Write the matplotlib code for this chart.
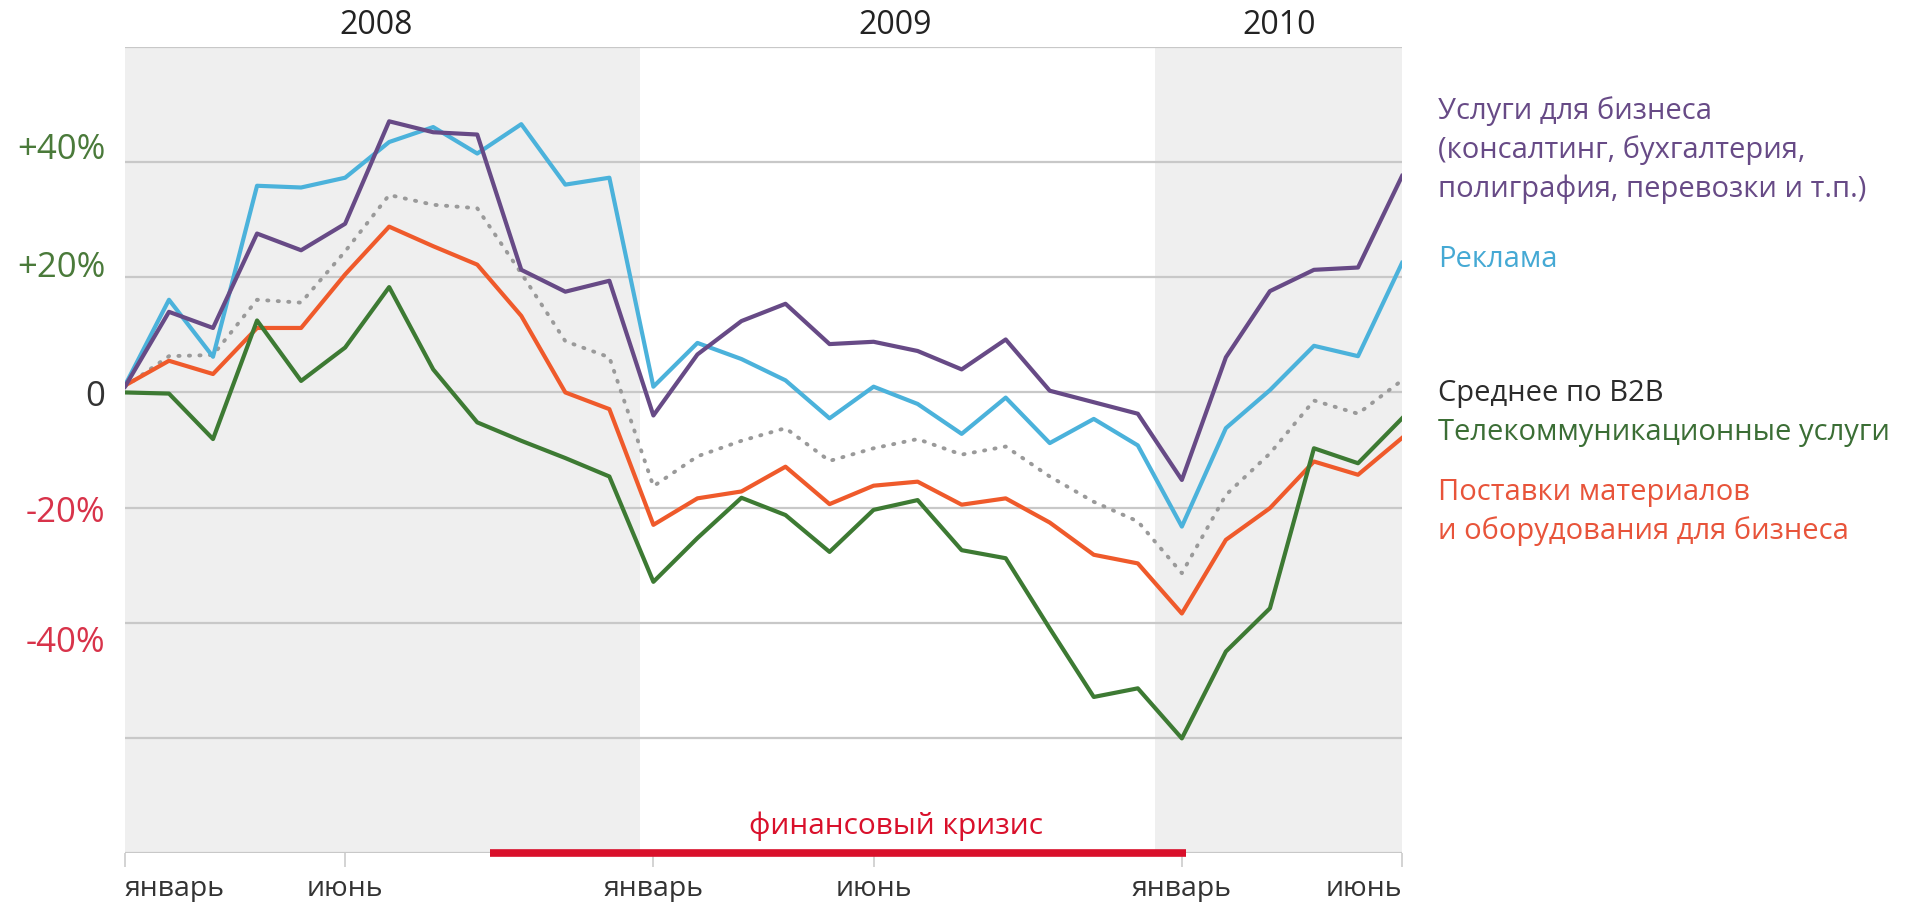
import numpy as np
import matplotlib
matplotlib.use("Agg")
import matplotlib.pyplot as plt
from matplotlib import transforms

plt.rcParams["font.family"] = ["Open Sans", "DejaVu Sans"]

# месяцы: 0 = январь 2008 ... 29 = июнь 2010
months = np.arange(30)

business_services = [1, 14.0, 11.2, 27.6, 24.7, 29.3, 47.1, 45.2, 44.8, 21.3,
                     17.5, 19.4, -4.0, 6.6, 12.4, 15.4, 8.4, 8.8, 7.2, 4.0,
                     9.2, 0.3, -1.7, -3.7, -15.2, 6.1, 17.6, 21.3, 21.7, 37.6]
advertising = [1.2, 16.1, 6.2, 35.9, 35.6, 37.3, 43.5, 46.1, 41.5, 46.6,
               36.1, 37.3, 1.0, 8.6, 5.8, 2.1, -4.5, 1.0, -2.0, -7.2,
               -0.9, -8.8, -4.6, -9.2, -23.3, -6.2, 0.4, 8.1, 6.3, 22.5]
b2b_average = [1, 6.3, 6.5, 16.1, 15.6, 24.5, 34.3, 32.6, 32.0, 20.7,
               8.9, 6.1, -16.3, -11.1, -8.4, -6.2, -11.9, -9.7, -8.1, -10.8,
               -9.4, -14.6, -19.0, -22.4, -31.4, -17.8, -10.6, -1.4, -3.7, 2.1]
telecom = [0, -0.2, -8.1, 12.5, 2.0, 7.8, 18.3, 4.0, -5.2, -8.4,
           -11.4, -14.6, -32.9, -25.3, -18.3, -21.3, -27.7, -20.4, -18.7, -27.4,
           -28.8, -41.0, -52.9, -51.4, -60.1, -45.0, -37.5, -9.7, -12.3, -4.5]
supplies = [1.2, 5.5, 3.2, 11.2, 11.2, 20.5, 28.8, 25.4, 22.2, 13.3,
            0.0, -2.9, -23.0, -18.4, -17.2, -12.9, -19.4, -16.2, -15.5, -19.5,
            -18.4, -22.6, -28.2, -29.7, -38.4, -25.6, -20.1, -12.0, -14.3, -7.9]

tick_months = [0, 5, 12, 17, 24, 29]
tick_labels = ["январь", "июнь", "январь", "июнь", "январь", "июнь"]
years = ["2008", "2009", "2010"]
year_centers = [5.7, 17.5, 26.2]
y_ticks = [40, 20, 0, -20, -40]
y_tick_labels = ["+40%", "+20%", "0", "-20%", "-40%"]
crisis_start, crisis_end = 8.3, 24.1
crisis_label_x = 17.5
shaded = [(0, 11.7), (23.4, 29)]

PURPLE = "#674a86"
BLUE = "#4bb2db"
GREY = "#9a9a9a"
GREEN = "#3d7a33"
ORANGE = "#ef5a2b"
RED = "#d9102b"

fig = plt.figure(figsize=(19.28, 9.03), dpi=100)
ax = fig.add_axes([0.0648, 0.0543, 0.6624, 0.8925])

for a, b in shaded:
    ax.axvspan(a, b, color="#efefef", lw=0, zorder=0)
for v in range(-80, 61, 20):
    ax.axhline(v, color="#c8c8c8", lw=1.6, zorder=1)

ax.plot(months, b2b_average, color=GREY, lw=2.8, ls=(0, (0.3, 2.4)),
        dash_capstyle="round", zorder=2)
ax.plot(months, supplies, color=ORANGE, lw=3.0, zorder=3)
ax.plot(months, telecom, color=GREEN, lw=3.0, zorder=4)
ax.plot(months, advertising, color=BLUE, lw=3.0, zorder=5)
ax.plot(months, business_services, color=PURPLE, lw=3.0, zorder=6)

# полоса кризиса
ax.plot([crisis_start, crisis_end], [-80, -80], color=RED, lw=5.5,
        solid_capstyle="butt", zorder=7, clip_on=False)
ax.text(crisis_label_x, -75.2, "финансовый кризис",
        color=RED, fontsize=21.5, ha="center", va="center")

ax.set_xlim(0, 29)
ax.set_ylim(-80, 60)
for s in ax.spines.values():
    s.set_visible(False)

ax.set_xticks(tick_months)
ax.set_xticklabels(tick_labels, fontsize=20.5, color="#333333")
ax.tick_params(axis="x", length=10, width=1.2, color="#cccccc", pad=5)
xl = ax.get_xticklabels()
xl[0].set_ha("left")
xl[-1].set_ha("right")

ax.set_yticks(y_ticks)
ax.set_yticklabels(y_tick_labels, fontsize=25)
ax.tick_params(axis="y", length=0, pad=14)
y_colors = ["#4a7a3a", "#4a7a3a", "#333333", "#d8334a", "#d8334a"]
y_shift = [0.17, 0.14, 0, 0, -0.15]
for lab, c, dy in zip(ax.get_yticklabels(), y_colors, y_shift):
    lab.set_color(c)
    lab.set_transform(lab.get_transform() +
                      transforms.ScaledTranslation(0, dy, fig.dpi_scale_trans))

# годы сверху
top = transforms.blended_transform_factory(ax.transData, ax.transAxes)
for yr, xc in zip(years, year_centers):
    ax.text(xc, 1.028, yr, transform=top, ha="center", va="center",
            fontsize=23, color="#222222")

# подписи серий справа
labels = [
    ("Услуги для бизнеса\n(консалтинг, бухгалтерия,\nполиграфия, перевозки и т.п.)", 0.8735, PURPLE),
    ("Реклама", 0.738, "#45a9d4"),
    ("Среднее по B2B", 0.5713, "#2b2b2b"),
    ("Телекоммуникационные услуги", 0.5226, "#3b6e35"),
    ("Поставки материалов\nи оборудования для бизнеса", 0.4243, "#e8543a"),
]
for txt, y, c in labels:
    ax.text(1.028, y, txt, transform=ax.transAxes, ha="left", va="center",
            fontsize=21, color=c, linespacing=1.4)

fig.savefig("out.png", dpi=100)
